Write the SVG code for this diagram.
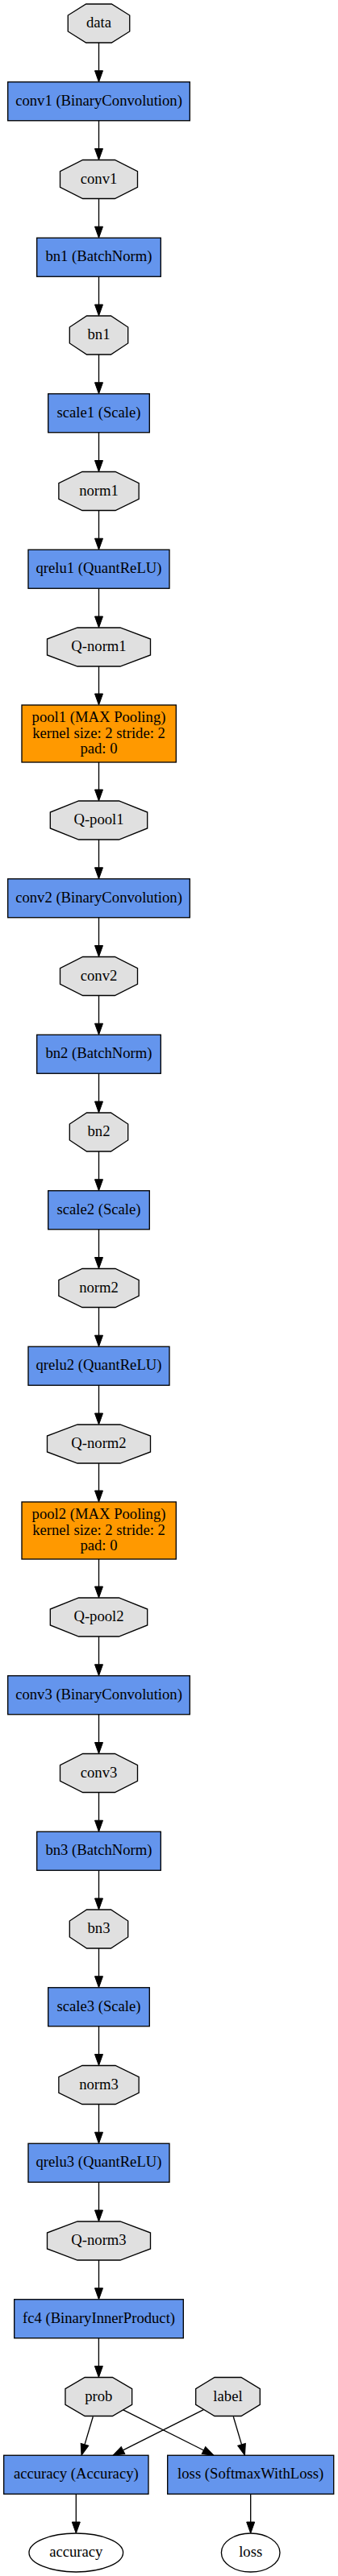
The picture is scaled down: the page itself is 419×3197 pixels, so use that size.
<svg xmlns="http://www.w3.org/2000/svg" width="419" height="3197" viewBox="0 0 419 3197">
<style>
.blob polygon{fill:#e0e0e0;stroke:#000;stroke-width:1.33}
.layer rect{fill:#6495ed;stroke:#000;stroke-width:1.33}
.pool rect{fill:#ff9900;stroke:#000;stroke-width:1.33}
.out ellipse{fill:#fff;stroke:#000;stroke-width:1.33}
text{font-family:"Liberation Serif","Times New Roman",serif;font-size:18.67px;text-anchor:middle;fill:#000}
.edges path{stroke:#000;stroke-width:1.33;fill:none;marker-end:url(#ah)}
</style>
<defs>
<marker id="ah" markerUnits="userSpaceOnUse" markerWidth="16" markerHeight="12" viewBox="0 -6 16 12" refX="0" refY="0" orient="auto" overflow="visible">
<path d="M0,-5 L14,0 L0,5 z" fill="#000" stroke="#000" stroke-width="1"/>
</marker>
</defs>
<rect width="419" height="3197" fill="#fff"/>
<g class="edges" id="edges">
<path d="M122.5,53 V87.75"/>
<path d="M122.5,149.75 V184.5"/>
<path d="M122.5,246.5 V281.25"/>
<path d="M122.5,343.25 V378"/>
<path d="M122.5,440 V474.75"/>
<path d="M122.5,536.75 V571.5"/>
<path d="M122.5,633.5 V668.25"/>
<path d="M122.5,730.25 V765"/>
<path d="M122.5,827 V861"/>
<path d="M122.5,946 V980"/>
<path d="M122.5,1042 V1076.75"/>
<path d="M122.5,1138.75 V1173.5"/>
<path d="M122.5,1235.5 V1270.25"/>
<path d="M122.5,1332.25 V1367"/>
<path d="M122.5,1429 V1463.75"/>
<path d="M122.5,1525.75 V1560.5"/>
<path d="M122.5,1622.5 V1657.25"/>
<path d="M122.5,1719.25 V1754"/>
<path d="M122.5,1816 V1850"/>
<path d="M122.5,1935 V1969"/>
<path d="M122.5,2031 V2065.75"/>
<path d="M122.5,2127.75 V2162.5"/>
<path d="M122.5,2224.5 V2259.25"/>
<path d="M122.5,2321.25 V2356"/>
<path d="M122.5,2418 V2452.75"/>
<path d="M122.5,2514.75 V2549.5"/>
<path d="M122.5,2611.5 V2646.25"/>
<path d="M122.5,2708.25 V2743"/>
<path d="M122.5,2805 V2839.75"/>
<path d="M122.4,2901.75 V2936.5"/>
<path d="M115.3,2999.3 L105,3033.83"/>
<path d="M152.3,2990.7 L252.49,3040.97"/>
<path d="M252.3,2990.7 L152.5,3040.95"/>
<path d="M289.3,2999.3 L299.52,3033.82"/>
<path d="M94.3,3095.25 V3130"/>
<path d="M310.7,3095.25 V3130"/>
</g>
<g id="data" class="blob"><polygon points="138.34,5 106.66,5 84.25,19.06 84.25,38.94 106.66,53 138.34,53 160.75,38.94 160.75,19.06"/><text x="122.5" y="34">data</text></g>
<g id="conv1_layer" class="layer"><rect x="9.7" y="101.75" width="225.6" height="48"/><text x="122.5" y="130.75">conv1 (BinaryConvolution)</text></g>
<g id="conv1_blob" class="blob"><polygon points="142.38,198.5 102.62,198.5 74.5,212.56 74.5,232.44 102.62,246.5 142.38,246.5 170.5,232.44 170.5,212.56"/><text x="122.5" y="227.5">conv1</text></g>
<g id="bn1_layer" class="layer"><rect x="45.7" y="295.25" width="153.6" height="48"/><text x="122.5" y="324.25">bn1 (BatchNorm)</text></g>
<g id="bn1_blob" class="blob"><polygon points="137.49,392 107.51,392 86.3,406.06 86.3,425.94 107.51,440 137.49,440 158.7,425.94 158.7,406.06"/><text x="122.5" y="421">bn1</text></g>
<g id="scale1_layer" class="layer"><rect x="59.7" y="488.75" width="125.6" height="48"/><text x="122.5" y="517.75">scale1 (Scale)</text></g>
<g id="norm1_blob" class="blob"><polygon points="143.07,585.5 101.93,585.5 72.85,599.56 72.85,619.44 101.93,633.5 143.07,633.5 172.15,619.44 172.15,599.56"/><text x="122.5" y="614.5">norm1</text></g>
<g id="qrelu1_layer" class="layer"><rect x="35" y="682.25" width="175" height="48"/><text x="122.5" y="711.25">qrelu1 (QuantReLU)</text></g>
<g id="Qnorm1_blob" class="blob"><polygon points="149.01,779 95.99,779 58.5,793.06 58.5,812.94 95.99,827 149.01,827 186.5,812.94 186.5,793.06"/><text x="122.5" y="808">Q-norm1</text></g>
<g id="pool1_layer" class="pool"><rect x="27" y="875" width="191.3" height="71"/><text x="122.5" y="896">pool1 (MAX Pooling)</text><text x="122.5" y="915.5">kernel size: 2 stride: 2</text><text x="122.5" y="935">pad: 0</text></g>
<g id="Qpool1_blob" class="blob"><polygon points="147.44,994 97.56,994 62.3,1008.06 62.3,1027.94 97.56,1042 147.44,1042 182.7,1027.94 182.7,1008.06"/><text x="122.5" y="1023">Q-pool1</text></g>
<g id="conv2_layer" class="layer"><rect x="9.7" y="1090.75" width="225.6" height="48"/><text x="122.5" y="1119.75">conv2 (BinaryConvolution)</text></g>
<g id="conv2_blob" class="blob"><polygon points="142.38,1187.5 102.62,1187.5 74.5,1201.56 74.5,1221.44 102.62,1235.5 142.38,1235.5 170.5,1221.44 170.5,1201.56"/><text x="122.5" y="1216.5">conv2</text></g>
<g id="bn2_layer" class="layer"><rect x="45.7" y="1284.25" width="153.6" height="48"/><text x="122.5" y="1313.25">bn2 (BatchNorm)</text></g>
<g id="bn2_blob" class="blob"><polygon points="137.49,1381 107.51,1381 86.3,1395.06 86.3,1414.94 107.51,1429 137.49,1429 158.7,1414.94 158.7,1395.06"/><text x="122.5" y="1410">bn2</text></g>
<g id="scale2_layer" class="layer"><rect x="59.7" y="1477.75" width="125.6" height="48"/><text x="122.5" y="1506.75">scale2 (Scale)</text></g>
<g id="norm2_blob" class="blob"><polygon points="143.07,1574.5 101.93,1574.5 72.85,1588.56 72.85,1608.44 101.93,1622.5 143.07,1622.5 172.15,1608.44 172.15,1588.56"/><text x="122.5" y="1603.5">norm2</text></g>
<g id="qrelu2_layer" class="layer"><rect x="35" y="1671.25" width="175" height="48"/><text x="122.5" y="1700.25">qrelu2 (QuantReLU)</text></g>
<g id="Qnorm2_blob" class="blob"><polygon points="149.01,1768 95.99,1768 58.5,1782.06 58.5,1801.94 95.99,1816 149.01,1816 186.5,1801.94 186.5,1782.06"/><text x="122.5" y="1797">Q-norm2</text></g>
<g id="pool2_layer" class="pool"><rect x="27" y="1864" width="191.3" height="71"/><text x="122.5" y="1885">pool2 (MAX Pooling)</text><text x="122.5" y="1904.5">kernel size: 2 stride: 2</text><text x="122.5" y="1924">pad: 0</text></g>
<g id="Qpool2_blob" class="blob"><polygon points="147.44,1983 97.56,1983 62.3,1997.06 62.3,2016.94 97.56,2031 147.44,2031 182.7,2016.94 182.7,1997.06"/><text x="122.5" y="2012">Q-pool2</text></g>
<g id="conv3_layer" class="layer"><rect x="9.7" y="2079.75" width="225.6" height="48"/><text x="122.5" y="2108.75">conv3 (BinaryConvolution)</text></g>
<g id="conv3_blob" class="blob"><polygon points="142.38,2176.5 102.62,2176.5 74.5,2190.56 74.5,2210.44 102.62,2224.5 142.38,2224.5 170.5,2210.44 170.5,2190.56"/><text x="122.5" y="2205.5">conv3</text></g>
<g id="bn3_layer" class="layer"><rect x="45.7" y="2273.25" width="153.6" height="48"/><text x="122.5" y="2302.25">bn3 (BatchNorm)</text></g>
<g id="bn3_blob" class="blob"><polygon points="137.49,2370 107.51,2370 86.3,2384.06 86.3,2403.94 107.51,2418 137.49,2418 158.7,2403.94 158.7,2384.06"/><text x="122.5" y="2399">bn3</text></g>
<g id="scale3_layer" class="layer"><rect x="59.7" y="2466.75" width="125.6" height="48"/><text x="122.5" y="2495.75">scale3 (Scale)</text></g>
<g id="norm3_blob" class="blob"><polygon points="143.07,2563.5 101.93,2563.5 72.85,2577.56 72.85,2597.44 101.93,2611.5 143.07,2611.5 172.15,2597.44 172.15,2577.56"/><text x="122.5" y="2592.5">norm3</text></g>
<g id="qrelu3_layer" class="layer"><rect x="35" y="2660.25" width="175" height="48"/><text x="122.5" y="2689.25">qrelu3 (QuantReLU)</text></g>
<g id="Qnorm3_blob" class="blob"><polygon points="149.01,2757 95.99,2757 58.5,2771.06 58.5,2790.94 95.99,2805 149.01,2805 186.5,2790.94 186.5,2771.06"/><text x="122.5" y="2786">Q-norm3</text></g>
<g id="fc4_layer" class="layer"><rect x="17.7" y="2853.75" width="209.6" height="48"/><text x="122.5" y="2882.75">fc4 (BinaryInnerProduct)</text></g>
<g id="prob_blob" class="blob"><polygon points="139.43,2950.5 105.17,2950.5 80.95,2964.56 80.95,2984.44 105.17,2998.5 139.43,2998.5 163.65,2984.44 163.65,2964.56"/><text x="122.3" y="2979.5">prob</text></g>
<g id="label_blob" class="blob"><polygon points="298.99,2950.5 266.01,2950.5 242.7,2964.56 242.7,2984.44 266.01,2998.5 298.99,2998.5 322.3,2984.44 322.3,2964.56"/><text x="282.5" y="2979.5">label</text></g>
<g id="accuracy_layer" class="layer"><rect x="4.7" y="3047.25" width="179.3" height="48"/><text x="94.3" y="3076.25">accuracy (Accuracy)</text></g>
<g id="loss_layer" class="layer"><rect x="207.7" y="3047.25" width="206" height="48"/><text x="310.7" y="3076.25">loss (SoftmaxWithLoss)</text></g>
<g id="accuracy_out" class="out"><ellipse cx="94.3" cy="3168" rx="58.3" ry="24"/><text x="94.3" y="3173">accuracy</text></g>
<g id="loss_out" class="out"><ellipse cx="310.7" cy="3168" rx="36.3" ry="24"/><text x="310.7" y="3173">loss</text></g>
</svg>
